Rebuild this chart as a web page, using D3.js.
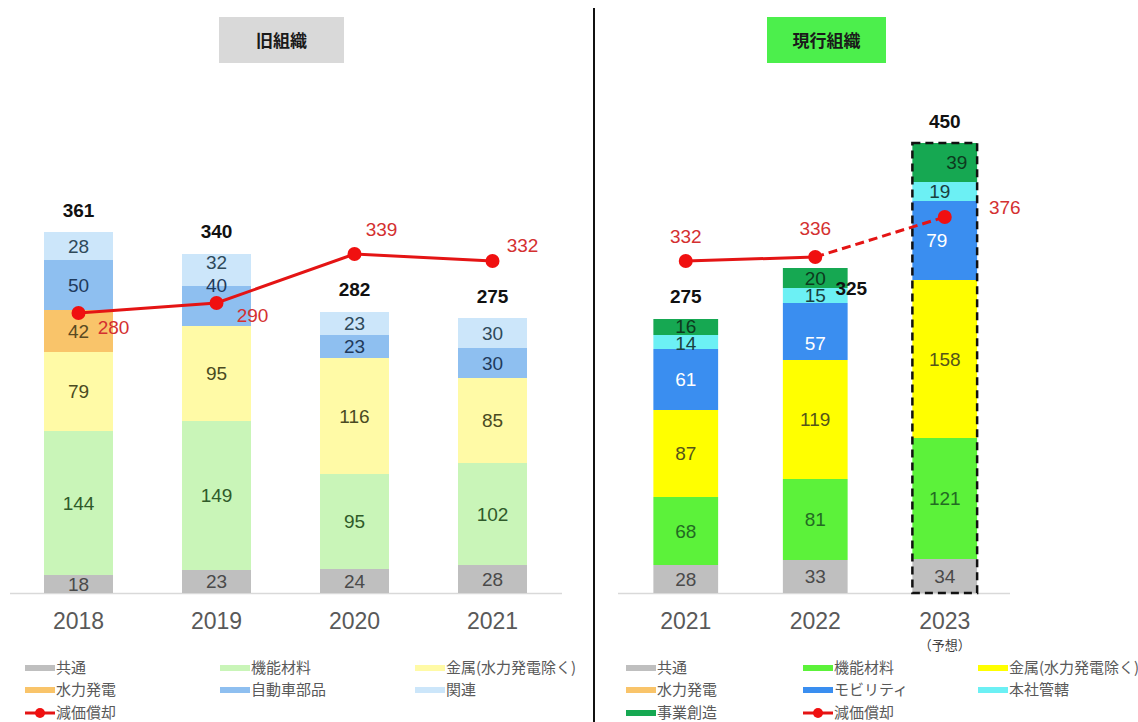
<!DOCTYPE html>
<html>
<head>
<meta charset="utf-8">
<script src="https://cdn.jsdelivr.net/npm/d3@7"></script>
<style>
  html, body { margin: 0; padding: 0; background: #fff; }
  svg { display: block; font-family: "Liberation Sans", Arial, "Noto Sans CJK JP", sans-serif; }
</style>
</head>
<body>
<svg id="chart" width="1138" height="722"></svg>
<script>
// ---- Depreciation by segment (old vs current organisation) ----
const oldYears = ["2018", "2019", "2020", "2021"];
const oldCommon = [18, 23, 24, 28];
const oldMaterials = [144, 149, 95, 102];
const oldMetals = [79, 95, 116, 85];
const oldHydro = [42, 0, 0, 0];
const oldAuto = [50, 40, 23, 30];
const oldRelated = [28, 32, 23, 30];
const oldTotals = [361, 340, 282, 275];
const oldDepreciation = [280, 290, 339, 332];

const newYears = ["2021", "2022", "2023"];
const newCommon = [28, 33, 34];
const newMaterials = [68, 81, 121];
const newMetals = [87, 119, 158];
const newMobility = [61, 57, 79];
const newHQ = [14, 15, 19];
const newVenture = [16, 20, 39];
const newTotals = [275, 325, 450];
const newDepreciation = [332, 336, 376];

const oldSeriesNames = ["共通", "機能材料", "金属(水力発電除く)", "水力発電", "自動車部品", "関連"];
const newSeriesNames = ["共通", "機能材料", "金属(水力発電除く)", "モビリティ", "本社管轄", "事業創造"];
const depName = "減価償却";

const svg = d3.select("#chart");

// shared value scale (both panels use the same baseline and unit)
const y = d3.scaleLinear().domain([0, 450]).range([593, 143]);

const oldColors = {
  "共通": "#bfbfbf", "機能材料": "#c9f5b8", "金属(水力発電除く)": "#fffaa6",
  "水力発電": "#f9c46a", "自動車部品": "#8ebff0", "関連": "#cce6fa"
};
const oldLabelColors = {
  "共通": "#4a4a4a", "機能材料": "#2f5a2a", "金属(水力発電除く)": "#4a4a22",
  "水力発電": "#5a4a22", "自動車部品": "#1f3a5c", "関連": "#2f4a5a"
};
const newColors = {
  "共通": "#bfbfbf", "機能材料": "#5cf23a", "金属(水力発電除く)": "#ffff00",
  "モビリティ": "#3a8ef0", "本社管轄": "#6cf0f4", "事業創造": "#16a852"
};
const newLabelColors = {
  "共通": "#4a4a4a", "機能材料": "#236a23", "金属(水力発電除く)": "#55551a",
  "モビリティ": "#ffffff", "本社管轄": "#1a4040", "事業創造": "#0d3a1e"
};
const red = "#e41414";
const redText = "#d43030";

// label nudges (series index, year index) -> [dx, dy]
const oldNudge = { "4-1": [0, -21], "5-1": [0, -8] };
const newNudge = { "3-1": [0, 12], "5-2": [12, 0], "4-2": [-5, 0], "3-2": [-8, 0], "5-0": [0, -1], "4-0": [0, 1] };

function buildRows(years, names, arrays) {
  return years.map((yr, i) => {
    const row = { year: yr };
    names.forEach((n, k) => { row[n] = arrays[k][i]; });
    return row;
  });
}

function drawPanel(cfg) {
  const g = svg.append("g");
  const x = d3.scaleBand().domain(cfg.years).range(cfg.range).paddingInner(0.5).paddingOuter(0.25);
  const rows = buildRows(cfg.years, cfg.names, cfg.arrays);
  const stacked = d3.stack().keys(cfg.names)(rows);

  // baseline
  g.append("line")
    .attr("x1", cfg.axisExtent[0]).attr("x2", cfg.axisExtent[1])
    .attr("y1", y(0) + 0.5).attr("y2", y(0) + 0.5)
    .attr("stroke", "#d9d9d9").attr("stroke-width", 1.5);

  // stacked bars
  stacked.forEach(layer => {
    g.append("g").selectAll("rect").data(layer).join("rect")
      .attr("x", d => x(d.data.year))
      .attr("width", x.bandwidth())
      .attr("y", d => y(d[1]))
      .attr("height", d => y(d[0]) - y(d[1]))
      .attr("fill", cfg.colors[layer.key]);
  });

  // segment values
  stacked.forEach((layer, si) => {
    layer.forEach((d, yi) => {
      const v = d[1] - d[0];
      if (!v) return;
      const nudge = cfg.nudge[si + "-" + yi] || [0, 0];
      g.append("text")
        .attr("x", x(d.data.year) + x.bandwidth() / 2 + nudge[0])
        .attr("y", (y(d[0]) + y(d[1])) / 2 + 6.5 + nudge[1])
        .attr("text-anchor", "middle")
        .attr("font-size", 19)
        .attr("fill", cfg.labelColors[layer.key])
        .text(v);
    });
  });

  // totals
  cfg.years.forEach((yr, i) => {
    const off = cfg.totalOffset[i] || [0, 0];
    g.append("text")
      .attr("x", x(yr) + x.bandwidth() / 2 + off[0])
      .attr("y", y(cfg.totals[i]) - 15 + off[1])
      .attr("text-anchor", "middle")
      .attr("font-size", 19).attr("font-weight", "bold")
      .attr("fill", "#111")
      .text(cfg.totals[i]);
  });

  // year labels
  cfg.years.forEach(yr => {
    g.append("text")
      .attr("x", x(yr) + x.bandwidth() / 2)
      .attr("y", 629)
      .attr("text-anchor", "middle")
      .attr("font-size", 23)
      .attr("fill", "#595959")
      .text(yr);
  });

  // depreciation line
  const pts = cfg.years.map((yr, i) => [x(yr) + x.bandwidth() / 2, y(cfg.dep[i])]);
  const line = d3.line();
  const solidEnd = cfg.solidUntil;
  g.append("path")
    .attr("d", line(pts.slice(0, solidEnd + 1)))
    .attr("fill", "none").attr("stroke", red).attr("stroke-width", 3);
  if (solidEnd < pts.length - 1) {
    g.append("path")
      .attr("d", line(pts.slice(solidEnd)))
      .attr("fill", "none").attr("stroke", red).attr("stroke-width", 3)
      .attr("stroke-dasharray", "9,5");
  }
  g.selectAll("circle.dep").data(pts).join("circle")
    .attr("class", "dep")
    .attr("cx", d => d[0]).attr("cy", d => d[1]).attr("r", 7)
    .attr("fill", "#f01010");

  cfg.dep.forEach((v, i) => {
    const off = cfg.depOffset[i];
    g.append("text")
      .attr("x", pts[i][0] + off[0])
      .attr("y", pts[i][1] + off[1] + 6.5)
      .attr("text-anchor", "middle")
      .attr("font-size", 19)
      .attr("fill", redText)
      .text(v);
  });

  // title box
  g.append("rect")
    .attr("x", cfg.title.x).attr("y", 17)
    .attr("width", cfg.title.w).attr("height", 46)
    .attr("fill", cfg.title.fill);
  g.append("text")
    .attr("x", cfg.title.x + cfg.title.w / 2).attr("y", 47)
    .attr("text-anchor", "middle")
    .attr("font-family", "'Noto Sans CJK JP', sans-serif")
    .attr("font-size", 17).attr("font-weight", "bold")
    .attr("fill", "#1a1a1a")
    .text(cfg.title.text);

  return { g, x };
}

const left = drawPanel({
  years: oldYears,
  names: oldSeriesNames,
  arrays: [oldCommon, oldMaterials, oldMetals, oldHydro, oldAuto, oldRelated],
  colors: oldColors, labelColors: oldLabelColors, nudge: oldNudge,
  totals: oldTotals, totalOffset: [],
  dep: oldDepreciation, solidUntil: 3,
  depOffset: [[35, 14], [36, 12], [27, -25], [30, -16]],
  range: [9.5, 561.5], axisExtent: [10, 562],
  title: { x: 219, w: 125, fill: "#d9d9d9", text: "旧組織" }
});

const right = drawPanel({
  years: newYears,
  names: newSeriesNames,
  arrays: [newCommon, newMaterials, newMetals, newMobility, newHQ, newVenture],
  colors: newColors, labelColors: newLabelColors, nudge: newNudge,
  totals: newTotals, totalOffset: [[0, 0], [36, 42], [0, 0]],
  dep: newDepreciation, solidUntil: 1,
  depOffset: [[0, -25], [0, -29], [60, -10]],
  range: [621, 1009.5], axisExtent: [618, 1010],
  title: { x: 767, w: 119, fill: "#4cef4c", text: "現行組織" }
});

// forecast outline on the 2023 bar
{
  const x = right.x;
  right.g.append("rect")
    .attr("x", x("2023")).attr("y", y(newTotals[2]))
    .attr("width", x.bandwidth()).attr("height", y(0) - y(newTotals[2]))
    .attr("fill", "none").attr("stroke", "#111").attr("stroke-width", 2.5)
    .attr("stroke-dasharray", "8,5");
  right.g.append("text")
    .attr("x", x("2023") + x.bandwidth() / 2).attr("y", 650)
    .attr("text-anchor", "middle")
    .attr("font-family", "'Noto Sans CJK JP', sans-serif")
    .attr("font-size", 13).attr("fill", "#404040")
    .text("（予想）");
}

// panel divider
svg.append("line")
  .attr("x1", 594).attr("x2", 594).attr("y1", 8).attr("y2", 722)
  .attr("stroke", "#111").attr("stroke-width", 2);

// legends
function drawLegend(items, cols, rowsY) {
  const g = svg.append("g")
    .attr("font-family", "'Noto Sans CJK JP', sans-serif")
    .attr("font-size", 15).attr("fill", "#595959");
  items.forEach((it, i) => {
    const cx = cols[i % 3], cy = rowsY[Math.floor(i / 3)];
    if (it.line) {
      g.append("line").attr("x1", cx).attr("x2", cx + 30).attr("y1", cy).attr("y2", cy)
        .attr("stroke", red).attr("stroke-width", 3);
      g.append("circle").attr("cx", cx + 15).attr("cy", cy).attr("r", 5).attr("fill", "#f01010");
    } else {
      g.append("rect").attr("x", cx).attr("y", cy - 3).attr("width", 30).attr("height", 6)
        .attr("fill", it.color);
    }
    g.append("text").attr("x", cx + 31).attr("y", cy + 5).text(it.name);
  });
}

drawLegend(
  oldSeriesNames.map(n => ({ name: n, color: oldColors[n] })).concat([{ name: depName, line: true }]),
  [25, 220, 415], [668, 690, 713]
);
drawLegend(
  [
    { name: "共通", color: newColors["共通"] },
    { name: "機能材料", color: newColors["機能材料"] },
    { name: "金属(水力発電除く)", color: newColors["金属(水力発電除く)"] },
    { name: "水力発電", color: "#f9c46a" },
    { name: "モビリティ", color: newColors["モビリティ"] },
    { name: "本社管轄", color: newColors["本社管轄"] },
    { name: "事業創造", color: newColors["事業創造"] },
    { name: depName, line: true }
  ],
  [626, 803, 978], [668, 690, 713]
);
</script>
</body>
</html>
